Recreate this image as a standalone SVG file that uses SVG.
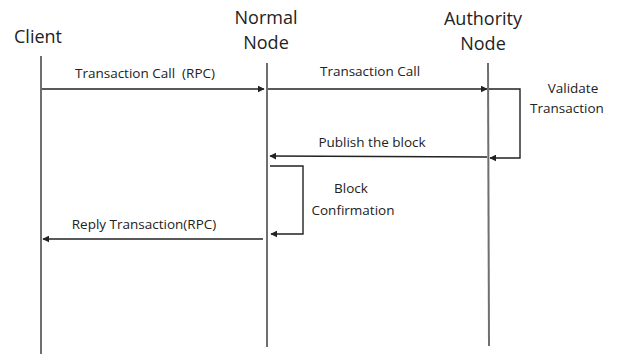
<svg xmlns="http://www.w3.org/2000/svg" width="617" height="354" viewBox="0 0 617 354">
<style>
text{font-family:"Open Sans","Liberation Sans",sans-serif;fill:#222}
.h{font-size:18px}
.l{font-size:13.5px}
.life{stroke:#6f6f6f;stroke-width:2;fill:none}
.c{stroke:#222;stroke-width:1.4;fill:none}
</style>
<defs>
<marker id="a" viewBox="0 0 10 10" refX="9" refY="5" markerWidth="7" markerHeight="7" markerUnits="userSpaceOnUse" orient="auto"><path d="M0,0 L10,5 L0,10 z" fill="#222"/></marker>
</defs>
<rect width="617" height="354" fill="#fff"/>
<g id="client"><text class="h" x="38" y="43" text-anchor="middle">Client</text><line class="life" x1="41" y1="56" x2="41" y2="354"/></g>
<g id="normal"><text class="h" x="266" y="24" text-anchor="middle">Normal</text><text class="h" x="266" y="49" text-anchor="middle">Node</text><line class="life" x1="267" y1="63" x2="267" y2="347"/></g>
<g id="authority"><text class="h" x="483" y="25" text-anchor="middle">Authority</text><text class="h" x="483" y="50" text-anchor="middle">Node</text><line class="life" x1="488" y1="63" x2="489" y2="346"/></g>
<g id="connectors">
<line class="c" x1="42" y1="89" x2="264" y2="89" marker-end="url(#a)"/>
<line class="c" x1="268" y1="89" x2="487" y2="89" marker-end="url(#a)"/>
<polyline class="c" points="489,89 520,89 520,158 490,158" marker-end="url(#a)"/>
<line class="c" x1="487" y1="157" x2="270" y2="156" marker-end="url(#a)"/>
<polyline class="c" points="270,166 303,166 303,234 271,234" marker-end="url(#a)"/>
<line class="c" x1="263" y1="239" x2="43" y2="239" marker-end="url(#a)"/>
</g>
<g id="labels">
<text class="l" x="145" y="78" text-anchor="middle" xml:space="preserve">Transaction Call  (RPC)</text>
<text class="l" x="370" y="76" text-anchor="middle">Transaction Call</text>
<text class="l" x="573" y="93" text-anchor="middle">Validate</text>
<text class="l" x="567" y="113" text-anchor="middle">Transaction</text>
<text class="l" x="372" y="147" text-anchor="middle">Publish the block</text>
<text class="l" x="351" y="193" text-anchor="middle">Block</text>
<text class="l" x="353" y="215" text-anchor="middle">Confirmation</text>
<text class="l" x="144" y="229" text-anchor="middle">Reply Transaction(RPC)</text>
</g>
</svg>
